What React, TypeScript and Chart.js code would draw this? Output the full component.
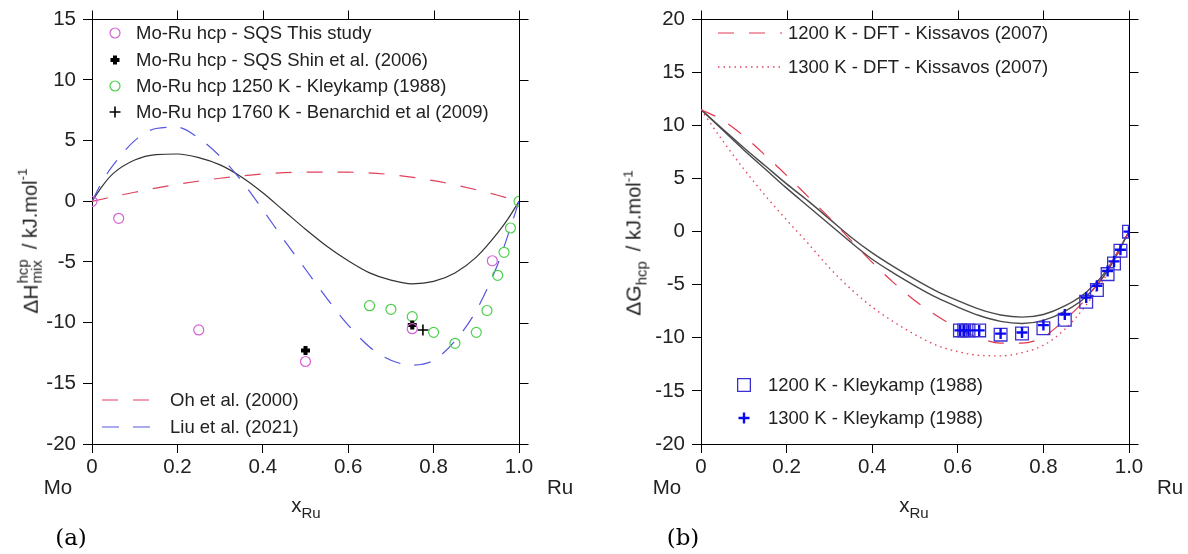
import React, { useEffect, useRef } from "react";
import { Chart, registerables } from "chart.js";

Chart.register(...registerables);

// ---------------- Panel (a) data ----------------
const xTickValues = [0, 0.2, 0.4, 0.6, 0.8, 1.0];
const xTickLabels = ["0", "0.2", "0.4", "0.6", "0.8", "1.0"];
const yTicksA = [15, 10, 5, 0, -5, -10, -15, -20];

const calcXA = [0, 0.025, 0.05, 0.1, 0.15, 0.2, 0.25, 0.3, 0.35, 0.4, 0.45, 0.5, 0.55, 0.6, 0.65, 0.7, 0.75, 0.8, 0.85, 0.9, 0.95, 0.975, 1.0];
const thisStudyCalcA = [0, 1.3, 2.3, 3.4, 3.85, 3.9, 3.6, 3.0, 2.0, 0.7, -0.8, -2.3, -3.7, -4.9, -5.9, -6.5, -6.8, -6.6, -5.9, -4.6, -2.6, -1.4, 0];
const liuCalcA = [0, 1.7, 3.0, 5.0, 6.0, 6.1, 5.2, 3.7, 1.7, -0.7, -3.2, -5.6, -8.0, -10.2, -12.0, -13.1, -13.5, -13.1, -11.5, -9.0, -5.2, -2.7, 0];
const ohX = [0, 0.1, 0.2, 0.3, 0.4, 0.5, 0.6, 0.7, 0.8, 0.9, 0.95, 1.0];
const ohY = [0, 0.75, 1.4, 1.9, 2.25, 2.4, 2.4, 2.2, 1.7, 0.95, 0.5, 0];

const sqsThisX = [0, 0.0625, 0.25, 0.5, 0.75, 0.9375];
const sqsThisY = [0, -1.4, -10.6, -13.2, -10.5, -4.9];
const shinX = [0.5, 0.75];
const shinY = [-12.3, -10.2];
const kley1250X = [0.65, 0.7, 0.75, 0.8, 0.85, 0.9, 0.925, 0.95, 0.965, 0.98, 1.0];
const kley1250Y = [-8.6, -8.9, -9.5, -10.8, -11.7, -10.8, -9.0, -6.1, -4.2, -2.2, 0];
const benarchidX = [0.775];
const benarchidY = [-10.6];

// ---------------- Panel (b) data ----------------
const yTicksB = [20, 15, 10, 5, 0, -5, -10, -15, -20];
const calcXB = [0, 0.05, 0.1, 0.15, 0.2, 0.25, 0.3, 0.35, 0.4, 0.45, 0.5, 0.55, 0.6, 0.65, 0.7, 0.75, 0.8, 0.85, 0.9, 0.95, 1.0];
const calcUpperB = [11.5, 9.7, 7.9, 6.2, 4.5, 2.9, 1.2, -0.5, -2.0, -3.3, -4.5, -5.6, -6.5, -7.3, -7.85, -8.05, -7.8, -7.0, -5.7, -3.5, 0];
const calcLowerB = [11.5, 9.6, 7.7, 5.9, 4.1, 2.4, 0.7, -1.0, -2.6, -3.9, -5.1, -6.2, -7.1, -7.9, -8.45, -8.65, -8.35, -7.5, -6.1, -3.7, 0];
const kissavos1200 = [11.5, 10.5, 9.0, 7.2, 5.3, 3.3, 1.3, -0.8, -2.9, -4.8, -6.5, -7.9, -9.1, -10.0, -10.5, -10.5, -9.9, -8.3, -6.3, -3.5, 0];
const kissavos1300 = [11.5, 8.6, 5.9, 3.4, 1.1, -1.1, -3.4, -5.4, -7.1, -8.5, -9.7, -10.7, -11.3, -11.65, -11.7, -11.4, -10.7, -9.2, -6.9, -3.9, 0];

const kleyBX = [0.605, 0.615, 0.625, 0.65, 0.7, 0.75, 0.8, 0.85, 0.9, 0.925, 0.95, 0.965, 0.98, 1.0];
const kley1200Y = [-9.3, -9.3, -9.3, -9.3, -9.7, -9.6, -9.1, -8.3, -6.6, -5.5, -4.0, -3.0, -1.8, 0];
const kley1300Y = [-9.3, -9.3, -9.3, -9.3, -9.6, -9.5, -8.8, -7.8, -6.2, -5.1, -3.7, -2.8, -1.7, 0];

const pts = (xs: number[], ys: number[]) => xs.map((x, i) => ({ x, y: ys[i] }));

const FONT = '"Liberation Sans", Arial, Helvetica, sans-serif';
const TEXT = "#222";

function drawMarker(ctx: CanvasRenderingContext2D, style: string, x: number, y: number, r: number, color: string, bw: number) {
  ctx.save();
  ctx.strokeStyle = color;
  ctx.lineWidth = bw;
  ctx.beginPath();
  if (style === "circle") {
    ctx.arc(x, y, r, 0, Math.PI * 2);
  } else if (style === "rect") {
    const s = r * Math.SQRT1_2;
    ctx.rect(x - s, y - s, 2 * s, 2 * s);
  } else {
    ctx.moveTo(x - r, y);
    ctx.lineTo(x + r, y);
    ctx.moveTo(x, y - r);
    ctx.lineTo(x, y + r);
  }
  ctx.stroke();
  ctx.restore();
}

const framePlugin = {
  id: "frameTicks",
  afterDraw(chart: any, _args: any, opts: any) {
    const { ctx, chartArea } = chart;
    const { left, right, top, bottom } = chartArea;
    const len = opts.len || 9;
    ctx.save();
    ctx.strokeStyle = "#000";
    ctx.lineWidth = 1;
    ctx.beginPath();
    const T = Math.round(top) + 0.5;
    const R = Math.round(right) + 0.5;
    ctx.moveTo(Math.round(left), T);
    ctx.lineTo(R, T);
    ctx.lineTo(R, Math.round(bottom) + 0.5);
    chart.scales.x.ticks.forEach((t: any) => {
      const px = Math.round(chart.scales.x.getPixelForValue(t.value)) + 0.5;
      ctx.moveTo(px, T);
      ctx.lineTo(px, T - len);
    });
    chart.scales.y.ticks.forEach((t: any) => {
      const py = Math.round(chart.scales.y.getPixelForValue(t.value)) + 0.5;
      ctx.moveTo(R, py);
      ctx.lineTo(R + len, py);
    });
    ctx.stroke();
    ctx.restore();
  },
};

const legendPlugin = {
  id: "customLegend",
  afterDraw(chart: any, _args: any, opts: any) {
    const { ctx } = chart;
    ctx.save();
    ctx.font = `${opts.size || 18.5}px ${FONT}`;
    ctx.fillStyle = TEXT;
    ctx.textBaseline = "middle";
    (opts.items || []).forEach((it: any) => {
      const ds = chart.data.datasets[it.ds];
      if (ds.showLine) {
        ctx.save();
        ctx.strokeStyle = ds.borderColor;
        ctx.lineWidth = ds.borderWidth;
        ctx.setLineDash(ds.borderDash || []);
        ctx.beginPath();
        ctx.moveTo(it.x, it.y);
        ctx.lineTo(it.x2, it.y);
        ctx.stroke();
        ctx.restore();
      } else {
        drawMarker(ctx, ds.pointStyle, it.x, it.y, ds.pointRadius, ds.pointBorderColor, ds.pointBorderWidth);
      }
      ctx.fillText(ds.label, it.tx, it.y + 1);
    });
    ctx.restore();
  },
};

function makeOptions(yMin: number, yMax: number, yTicks: number[], padding: any, yWidth: number, legendItems: any[]) {
  return {
    animation: false,
    responsive: false,
    events: [],
    layout: { padding },
    plugins: {
      legend: { display: false },
      tooltip: { enabled: false },
      frameTicks: { len: 9 },
      customLegend: { items: legendItems, size: 18.5 },
    },
    scales: {
      x: {
        type: "linear",
        min: 0,
        max: 1,
        afterFit: (s: any) => {
          s.height = 110;
        },
        afterBuildTicks: (s: any) => {
          s.ticks = xTickValues.map((v) => ({ value: v }));
        },
        ticks: {
          callback: (_v: any, i: number) => xTickLabels[i],
          font: { family: FONT, size: 20.5 },
          color: TEXT,
          padding: 2,
          maxRotation: 0,
          autoSkip: false,
        },
        grid: { drawOnChartArea: false, drawTicks: true, tickLength: 9, color: "#000" },
        border: { display: true, color: "#000", width: 1 },
      },
      y: {
        type: "linear",
        min: yMin,
        max: yMax,
        afterFit: (s: any) => {
          s.width = yWidth;
        },
        afterBuildTicks: (s: any) => {
          s.ticks = yTicks.map((v) => ({ value: v }));
        },
        ticks: {
          callback: (_v: any, i: number) => String(yTicks[i]),
          font: { family: FONT, size: 20.5 },
          color: TEXT,
          padding: 7,
          autoSkip: false,
        },
        grid: { drawOnChartArea: false, drawTicks: true, tickLength: 9, color: "#000" },
        border: { display: true, color: "#000", width: 1 },
      },
    },
  };
}

const lineDs = (label: string, data: any[], color: string, width: number, dash: number[]) => ({
  label,
  data,
  showLine: true,
  borderColor: color,
  borderWidth: width,
  borderDash: dash,
  pointRadius: 0,
  cubicInterpolationMode: "monotone",
  fill: false,
});

const pointDs = (label: string, data: any[], style: string, r: number, color: string, bw: number) => ({
  label,
  data,
  showLine: false,
  pointStyle: style,
  pointRadius: r,
  pointBorderColor: color,
  pointBackgroundColor: "rgba(0,0,0,0)",
  pointBorderWidth: bw,
  borderColor: color,
  backgroundColor: "rgba(0,0,0,0)",
});

const Txt = ({ x, y, children, style }: any) => (
  <div
    style={{
      position: "absolute",
      left: x,
      top: y,
      transform: "translate(-50%,-50%)",
      whiteSpace: "nowrap",
      lineHeight: 1,
      color: TEXT,
      ...style,
    }}
  >
    {children}
  </div>
);

export default function App() {
  const refA = useRef<HTMLCanvasElement>(null);
  const refB = useRef<HTMLCanvasElement>(null);

  useEffect(() => {
    const chartA = new Chart(refA.current as HTMLCanvasElement, {
      type: "scatter",
      data: {
        datasets: [
          pointDs("Mo-Ru hcp - SQS This study", pts(sqsThisX, sqsThisY), "circle", 5, "#d462d4", 1.2),
          pointDs("Mo-Ru hcp - SQS Shin et al. (2006)", pts(shinX, shinY), "cross", 4.5, "#000", 4),
          pointDs("Mo-Ru hcp 1250 K - Kleykamp (1988)", pts(kley1250X, kley1250Y), "circle", 5, "#4cd04c", 1.2),
          pointDs("Mo-Ru hcp 1760 K - Benarchid et al (2009)", pts(benarchidX, benarchidY), "cross", 5.5, "#000", 1.6),
          lineDs("Oh et al. (2000)", pts(ohX, ohY), "#e0405c", 1.2, [16, 15]),
          lineDs("Liu et al. (2021)", pts(calcXA, liuCalcA), "#5555e0", 1.2, [17, 14]),
          lineDs("This study", pts(calcXA, thisStudyCalcA), "#333", 1.2, []),
        ],
      } as any,
      options: makeOptions(-20, 15, yTicksA, { left: 0, top: 16, right: 75, bottom: 0 }, 92, [
        { ds: 0, x: 115, y: 33, tx: 136 },
        { ds: 1, x: 115, y: 60, tx: 136 },
        { ds: 2, x: 115, y: 86, tx: 136 },
        { ds: 3, x: 115, y: 112, tx: 136 },
        { ds: 4, x: 102, x2: 157, y: 400, tx: 170 },
        { ds: 5, x: 102, x2: 157, y: 427, tx: 170 },
      ]) as any,
      plugins: [framePlugin, legendPlugin],
    });

    const chartB = new Chart(refB.current as HTMLCanvasElement, {
      type: "scatter",
      data: {
        datasets: [
          pointDs("1300 K - Kleykamp (1988)", pts(kleyBX, kley1300Y), "cross", 5.5, "#0a0af0", 2.4),
          pointDs("1200 K - Kleykamp (1988)", pts(kleyBX, kley1200Y), "rect", 9, "#3a2fd0", 1.3),
          lineDs("1200 K - DFT - Kissavos (2007)", pts(calcXB, kissavos1200), "#e2384e", 1.2, [16, 15]),
          lineDs("1300 K - DFT - Kissavos (2007)", pts(calcXB, kissavos1300), "#e0485c", 1.4, [1.5, 4]),
          lineDs("upper", pts(calcXB, calcUpperB), "#4a4a4a", 1.4, []),
          lineDs("lower", pts(calcXB, calcLowerB), "#4a4a4a", 1.4, []),
        ],
      } as any,
      options: makeOptions(-20, 20, yTicksB, { left: 0, top: 18, right: 59, bottom: 0 }, 107, [
        { ds: 2, x: 124, x2: 188, y: 33, tx: 194 },
        { ds: 3, x: 124, x2: 188, y: 67, tx: 194 },
        { ds: 1, x: 150, y: 385, tx: 174 },
        { ds: 0, x: 150, y: 418, tx: 174 },
      ]) as any,
      plugins: [framePlugin, legendPlugin],
    });

    return () => {
      chartA.destroy();
      chartB.destroy();
    };
  }, []);

  return (
    <div
      style={{
        position: "absolute",
        left: 0,
        top: 0,
        width: 1188,
        height: 554,
        background: "#fff",
        fontFamily: FONT,
        overflow: "hidden",
      }}
    >
      <canvas ref={refA} width={594} height={554} style={{ position: "absolute", left: 0, top: 0 }} />
      <canvas ref={refB} width={594} height={554} style={{ position: "absolute", left: 594, top: 0 }} />

      {/* Panel (a) texts */}
      <Txt x={58} y={487} style={{ fontSize: 20.5 }}>Mo</Txt>
      <Txt x={560} y={487} style={{ fontSize: 20.5 }}>Ru</Txt>
      <Txt x={306} y={505} style={{ fontSize: 20.5 }}>
        x<span style={{ fontSize: 15, position: "relative", top: 6 }}>Ru</span>
      </Txt>
      <Txt x={71} y={537} style={{ fontSize: 23, fontFamily: '"DejaVu Serif", "Liberation Serif", serif', color: "#000" }}>(a)</Txt>
      <div
        style={{
          position: "absolute",
          left: 30,
          top: 241,
          transform: "translate(-50%,-50%) rotate(-90deg)",
          whiteSpace: "nowrap",
          lineHeight: 1,
          color: TEXT,
          fontSize: 21,
          display: "flex",
          alignItems: "center",
        }}
      >
        <span>ΔH</span>
        <span style={{ display: "inline-flex", flexDirection: "column", fontSize: 15, lineHeight: 0.95, marginLeft: 1 }}>
          <span>hcp</span>
          <span>mix</span>
        </span>
        <span style={{ marginLeft: 10, fontSize: 20 }}>/ kJ.mol</span>
        <span style={{ fontSize: 13.5, position: "relative", top: -8 }}>-1</span>
      </div>

      {/* Panel (b) texts */}
      <Txt x={667} y={487} style={{ fontSize: 20.5 }}>Mo</Txt>
      <Txt x={1170} y={487} style={{ fontSize: 20.5 }}>Ru</Txt>
      <Txt x={914} y={505} style={{ fontSize: 20.5 }}>
        x<span style={{ fontSize: 15, position: "relative", top: 6 }}>Ru</span>
      </Txt>
      <Txt x={683} y={537} style={{ fontSize: 23, fontFamily: '"DejaVu Serif", "Liberation Serif", serif', color: "#000" }}>(b)</Txt>
      <div
        style={{
          position: "absolute",
          left: 633,
          top: 243,
          transform: "translate(-50%,-50%) rotate(-90deg)",
          whiteSpace: "nowrap",
          lineHeight: 1,
          color: TEXT,
          fontSize: 21,
        }}
      >
        ΔG<span style={{ fontSize: 15, position: "relative", top: 6 }}>hcp</span>
        <span style={{ marginLeft: 10, fontSize: 20 }}>/ kJ.mol</span>
        <span style={{ fontSize: 13.5, position: "relative", top: -8 }}>-1</span>
      </div>
    </div>
  );
}
